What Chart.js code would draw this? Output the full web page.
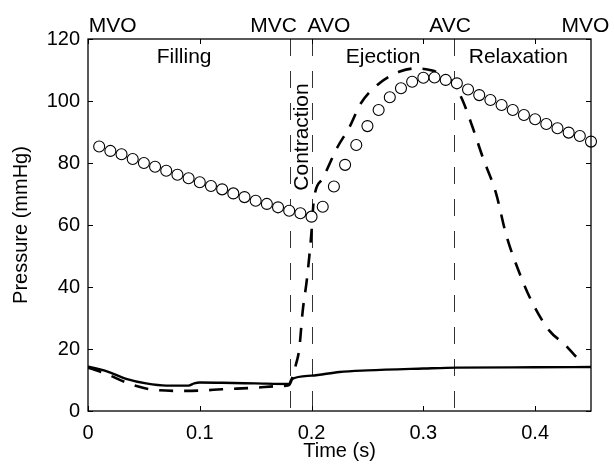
<!DOCTYPE html>
<html>
<head>
<meta charset="utf-8">
<script src="https://cdn.jsdelivr.net/npm/chart.js@4.4.1/dist/chart.umd.min.js"></script>
<style>
  html, body { margin: 0; padding: 0; background: #fff; }
  #wrap { width: 614px; height: 472px; }
</style>
</head>
<body>
<div id="wrap"><canvas id="pv"></canvas></div>
<script>
// aortic pressure (circles), sampled every 10 ms
const aoTime = [0.01,0.02,0.03,0.04,0.05,0.06,0.07,0.08,0.09,0.10,0.11,0.12,0.13,0.14,0.15,
    0.16,0.17,0.18,0.19,0.20,0.21,0.22,0.23,0.24,0.25,0.26,0.27,0.28,0.29,0.30,
    0.31,0.32,0.33,0.34,0.35,0.36,0.37,0.38,0.39,0.40,0.41,0.42,0.43,0.44,0.45];
const aoPressure = [85.3,83.9,82.8,81.3,80.0,78.8,77.5,76.2,75.1,73.8,72.6,71.5,70.2,69.0,67.8,
    66.8,65.7,64.6,63.8,62.7,65.9,72.4,79.4,85.8,91.9,97.1,101.2,104.1,106.2,107.5,
    107.6,106.8,105.7,103.7,101.9,100.3,98.7,97.1,95.5,94.1,92.6,91.2,89.8,88.7,86.9];

// left ventricle pressure (dashed)
const lvTime = [0,0.01,0.02,0.03,0.04,0.05,0.06,0.08,0.10,0.12,0.15,0.17,0.18,0.183,0.186,0.189,
    0.192,0.196,0.200,0.202,0.21,0.223,0.234,0.244,0.261,0.279,0.293,0.308,0.317,0.327,
    0.335,0.344,0.353,0.365,0.374,0.386,0.397,0.4125,0.427,0.4375,0.443];
const lvPressure = [14,12.8,11.4,9.8,8.4,7.4,6.8,6.5,6.6,7.0,7.5,8.0,8.4,11,15,20,
    32,43,58,68,75,85,91.6,99.2,105.8,109.5,110.5,109.8,108.4,105.8,
    100.3,91.6,82,70.3,57,44.5,35.3,26,21.3,17.2,15.5];

// left atrium pressure (solid)
const laTime = [0,0.01,0.02,0.035,0.052,0.07,0.09,0.095,0.10,0.12,0.15,0.18,0.182,0.20,0.225,0.25,0.30,0.33,0.40,0.45];
const laPressure = [14.3,13.5,12.4,10.3,8.9,8.2,8.2,8.9,9.2,9.1,8.9,8.7,10.2,11.4,12.6,13.1,13.7,14.0,14.1,14.2];

// valve events and phases
const valveTimes = [0.181, 0.2, 0.327];
const eventLabels = ['MVO', 'MVC', 'AVO', 'AVC', 'MVO'];
const eventLabelTimes = [0.022, 0.166, 0.2155, 0.324, 0.445];
const phaseLabels = ['Filling', 'Ejection', 'Relaxation'];
const phaseLabelTimes = [0.086, 0.264, 0.385];

const toXY = (xs, ys) => xs.map((x, i) => ({x: x, y: ys[i]}));

const frame = {
    id: 'frame',
    beforeDatasetsDraw(chart) {
        const {ctx, chartArea: a, scales: {x, y}} = chart;
        ctx.save();
        ctx.strokeStyle = '#333';
        ctx.lineWidth = 1;
        ctx.setLineDash([17, 15]);
        valveTimes.forEach(t => {
            const px = Math.round(x.getPixelForValue(t)) + 0.5;
            ctx.beginPath();
            ctx.moveTo(px, a.top);
            ctx.lineTo(px, a.bottom);
            ctx.stroke();
        });
        ctx.restore();
    },
    afterDraw(chart) {
        const {ctx, chartArea: a, scales: {x, y}} = chart;
        ctx.save();
        ctx.strokeStyle = '#000';
        ctx.lineWidth = 1.3;
        ctx.strokeRect(a.left, a.top, a.right - a.left, a.bottom - a.top);
        ctx.lineWidth = 1;
        const tl = 5;
        ctx.beginPath();
        x.ticks.forEach(t => {
            const px = Math.round(x.getPixelForValue(t.value)) + 0.5;
            ctx.moveTo(px, a.bottom); ctx.lineTo(px, a.bottom - tl);
            ctx.moveTo(px, a.top); ctx.lineTo(px, a.top + tl);
        });
        y.ticks.forEach(t => {
            const py = Math.round(y.getPixelForValue(t.value)) + 0.5;
            ctx.moveTo(a.left, py); ctx.lineTo(a.left + tl, py);
            ctx.moveTo(a.right, py); ctx.lineTo(a.right - tl, py);
        });
        ctx.stroke();

        ctx.fillStyle = '#000';
        ctx.font = '21px "Liberation Sans", Arial, sans-serif';
        ctx.textAlign = 'center';
        ctx.textBaseline = 'alphabetic';
        eventLabels.forEach((s, i) => ctx.fillText(s, x.getPixelForValue(eventLabelTimes[i]), 32));
        phaseLabels.forEach((s, i) => ctx.fillText(s, x.getPixelForValue(phaseLabelTimes[i]), 62.5));

        // contraction label, turned up the side
        ctx.translate(308, 137);
        ctx.rotate(-Math.PI / 2);
        ctx.fillText('Contraction', 0, 0);
        ctx.restore();
    }
};

const ctx = document.querySelector('#pv').getContext('2d');
new Chart(ctx, {
    type: 'scatter',
    data: {
        datasets: [{
            label: 'Aortic',
            data: toXY(aoTime, aoPressure),
            showLine: false,
            clip: false,
            pointStyle: 'circle',
            pointRadius: 5.5,
            pointBorderWidth: 1.1,
            pointBackgroundColor: '#fff',
            pointBorderColor: '#000'
        }, {
            label: 'LV',
            data: toXY(lvTime, lvPressure),
            showLine: true,
            borderColor: '#000',
            borderWidth: 2.6,
            borderDash: [14, 11],
            pointRadius: 0,
            cubicInterpolationMode: 'monotone'
        }, {
            label: 'LA',
            data: toXY(laTime, laPressure),
            showLine: true,
            borderColor: '#000',
            borderWidth: 2.4,
            pointRadius: 0,
            cubicInterpolationMode: 'monotone'
        }]
    },
    options: {
        responsive: true,
        maintainAspectRatio: false,
        animation: false,
        layout: {
            padding: {top: 39, right: 23, left: 0, bottom: 0}
        },
        plugins: {
            legend: {display: false},
            tooltip: {enabled: false}
        },
        scales: {
            x: {
                type: 'linear',
                min: 0,
                max: 0.45,
                grid: {display: false, drawTicks: false},
                border: {display: false},
                ticks: {
                    stepSize: 0.1,
                    includeBounds: false,
                    padding: 10,
                    color: '#000',
                    font: {family: '"Liberation Sans", Arial, sans-serif', size: 20}
                },
                title: {
                    display: true,
                    text: 'Time (s)',
                    color: '#000',
                    padding: {top: 0, bottom: 9},
                    font: {family: '"Liberation Sans", Arial, sans-serif', size: 20}
                },
                afterFit(scale) { scale.height = 61; }
            },
            y: {
                min: 0,
                max: 120,
                grid: {display: false, drawTicks: false},
                border: {display: false},
                ticks: {
                    stepSize: 20,
                    padding: 8,
                    color: '#000',
                    font: {family: '"Liberation Sans", Arial, sans-serif', size: 20}
                },
                title: {
                    display: true,
                    text: 'Pressure (mmHg)',
                    color: '#000',
                    padding: {top: 9, bottom: 0},
                    font: {family: '"Liberation Sans", Arial, sans-serif', size: 20}
                },
                afterFit(scale) { scale.width = 88; }
            }
        }
    },
    plugins: [frame]
});
</script>
</body>
</html>
